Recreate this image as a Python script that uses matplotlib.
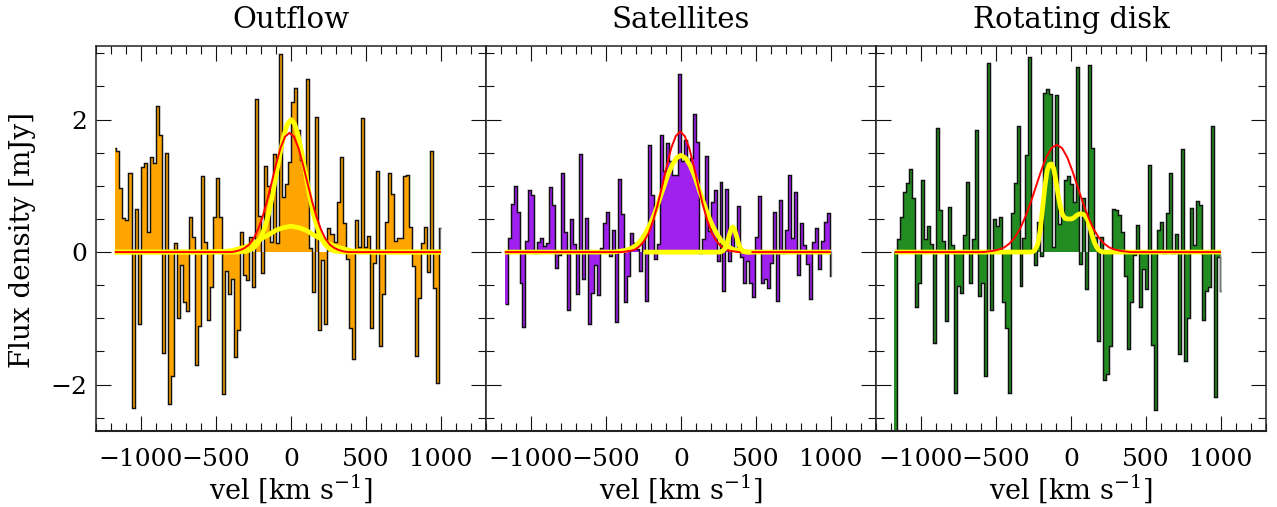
import numpy as np
import matplotlib
matplotlib.use("Agg")
import matplotlib.pyplot as plt

plt.rcParams['font.family'] = ['DejaVu Serif']
plt.rcParams['mathtext.fontset'] = 'dejavuserif'
plt.rcParams['axes.unicode_minus'] = True

titles = ["Outflow", "Satellites", "Rotating disk"]
fill_colors = ["#FFA500", "#A020F0", "#228B22"]

flux_outflow = [
    1.57, 1.52, 0.97, 0.52, 0.49, 1.20, -2.35, 0.65, -1.08, 1.29, 1.34, 0.30, 1.43, 1.35, 2.21, 1.77,
    -1.53, 1.49, -2.29, -1.87, 0.14, -0.99, -0.19, -0.76, -0.89, 0.53, 0.23, -1.70, -1.11, 1.15, 0.15,
    -1.03, -0.53, 0.53, 1.12, 0.53, -2.14, -0.28, -0.63, -0.40, -1.58, -1.18, 0.31, -0.35, -0.42, 0.23,
    -0.52, 2.31, 0.55, -0.32, 1.30, 1.00, 0.15, 1.48, 0.13, 2.99, 0.83, 1.03, 1.36,
    2.27, 2.47, 1.84, 1.39, 1.24, 2.61, 0.06, -0.60, 2.04, -1.18, -0.12, -1.08, 0.36, 0.28, 0.15, 0.75,
    1.43, 0.44, -0.11, -1.15, -1.61, 0.48, 0.07, 2.03, 0.07, 0.25, -1.14, -0.16, 1.23, -1.42, -0.64,
    0.46, 1.19, 0.88, 0.16, 0.22, 0.21, 1.15, 1.16, 0.38, -0.21, -1.57, -0.70, 0.13, 0.38, -0.30, 1.52,
    -0.54, -1.98, 0.37]
flux_satellites = [
    -0.78, 0.21, 0.73, 1.00, 0.61, -0.46, -1.13, 0.17, 0.93, 0.86, -0.02, 0.15, 0.22, 0.09, 0.13, 0.98,
    0.71, -0.24, -0.05, 1.19, 0.31, -0.88, 0.50, 0.12, -0.63, 1.48, -0.41, 0.52, -1.09, -0.61, -0.20,
    -0.65, 0.06, 0.44, 0.60, -0.06, 0.33, -1.05, 1.10, 0.57, -0.76, -0.36, 0.29, 0.13, 0.04, -0.28,
    0.20, -0.74, 1.62, 0.86, -0.10, 0.12, 1.76, 1.23, 1.65, 1.38, 1.17, 1.16, 2.69,
    1.37, 1.69, 1.37, 1.42, 2.08, 1.66, -0.02, 0.20, 1.45, 0.32, 0.76, 0.93, -0.14, 1.06, -0.58, 0.95,
    -0.13, 0.35, 0.05, 0.70, -0.08, -0.46, -0.14, -0.47, -0.68, 0.23, 0.85, -0.47, -0.41, -0.54, -0.16,
    0.61, -0.74, 0.79, -0.02, 0.34, 1.17, 0.22, 0.91, -0.34, 0.44, 0.11, -0.18, -0.71, 0.15, 0.37,
    -0.25, 0.16, 0.45, 0.59, -0.36]
flux_disk = [
    -3.5, 0.19, 0.53, 0.91, 1.05, 1.26, 0.82, -0.83, -0.46, 1.09, 0.20, 0.39, 0.12, -1.37, 1.87, 0.63,
    0.17, -1.04, 0.68, 0.11, -2.12, -0.51, -0.62, 0.26, 1.06, -0.47, 0.19, 1.84, -0.67, -0.46, -1.87,
    2.85, -0.88, 0.50, 0.39, 0.53, -0.76, -1.14, -2.13, 0.59, 1.05, 1.90, -0.51, 0.22, 1.47, 2.94,
    0.03, -0.20, 0.45, -0.06, 2.40, 2.46, 2.38, 0.07, 2.37, 0.42, 0.56, 1.09, 1.15,
    1.03, 0.75, 2.79, -0.18, 0.81, -0.56, 2.83, 1.57, 0.23, -1.34, 0.23, -1.93, -1.84, -1.41, 0.65,
    0.63, 0.56, 0.31, -0.36, -1.47, -0.75, -0.05, 0.41, -0.83, -0.25, -0.55, 1.31, -1.40, -2.39, 0.33,
    0.45, -0.02, 0.59, 1.19, -0.02, 0.27, -1.54, 1.56, -1.64, -0.99, 0.66, 0.11, 0.77, 0.71, -1.02,
    -0.59, -0.52, 1.90, -2.19, -0.08, -0.58]

# velocity channel edges of each spectrum (km/s)
edges_outflow = np.concatenate(([-1175], 2 + 20.1 * np.arange(-58, 50), [1000]))
edges_satellites = np.concatenate((-2 + 19.9 * np.arange(-59, 51), [1000]))
edges_disk = np.concatenate((-5 + 19.9 * np.arange(-59, 51), [1000]))

V_START, V_END = -1175, 1000

# Fitted profiles
red1_v = [V_START, -400, -370, -340, -310, -280, -250, -220, -190, -160, -130, -100, -70, -40, -10,
          20, 50, 80, 110, 140, 170, 200, 230, 260, 290, 320, 350, 380, V_END]
red1_f = [0, 0, 0.01, 0.03, 0.06, 0.11, 0.20, 0.34, 0.53, 0.77, 1.04, 1.32, 1.57, 1.74, 1.80,
          1.74, 1.57, 1.32, 1.04, 0.77, 0.53, 0.34, 0.20, 0.11, 0.06, 0.03, 0.01, 0, 0]
yel1a_v = [V_START, -350, -325, -300, -275, -250, -225, -200, -175, -150, -125, -100, -75, -50, -25, 0,
           25, 50, 75, 100, 125, 150, 175, 200, 225, 250, 275, 300, 325, 350, V_END]
yel1a_f = [0, 0, 0.01, 0.01, 0.03, 0.06, 0.12, 0.22, 0.37, 0.57, 0.84, 1.15, 1.46, 1.74, 1.93, 2.00,
           1.93, 1.74, 1.46, 1.15, 0.84, 0.57, 0.37, 0.22, 0.12, 0.06, 0.03, 0.01, 0.01, 0, 0]
yel1b_v = [V_START, -550, -500, -450, -400, -350, -300, -250, -200, -150, -100, -50, 0,
           50, 100, 150, 200, 250, 300, 350, 400, 450, 500, 550, V_END]
yel1b_f = [0, 0, 0.01, 0.01, 0.02, 0.05, 0.08, 0.13, 0.20, 0.26, 0.33, 0.37, 0.39,
           0.37, 0.33, 0.26, 0.20, 0.13, 0.08, 0.05, 0.02, 0.01, 0.01, 0, 0]

red2_v = [V_START, -395, -365, -335, -305, -275, -245, -215, -185, -155, -125, -95, -65, -35, -5,
          25, 55, 85, 115, 145, 175, 205, 235, 265, 295, 325, 355, 385, V_END]
red2_f = [0, 0, 0.01, 0.02, 0.04, 0.09, 0.17, 0.29, 0.48, 0.72, 1.00, 1.30, 1.57, 1.75, 1.82,
          1.75, 1.57, 1.30, 1.00, 0.72, 0.48, 0.29, 0.17, 0.09, 0.04, 0.02, 0.01, 0, 0]
yel2a_v = [V_START, -450, -420, -390, -360, -330, -300, -270, -240, -210, -180, -150, -120, -90, -60, -30, 0,
           30, 60, 90, 120, 150, 180, 210, 240, 270, 300, 330, 360, 390, 420, 450, V_END]
yel2a_f = [0, 0, 0.01, 0.02, 0.03, 0.06, 0.10, 0.17, 0.27, 0.40, 0.56, 0.75, 0.95, 1.15, 1.31, 1.42, 1.46,
           1.42, 1.31, 1.15, 0.95, 0.75, 0.56, 0.40, 0.27, 0.17, 0.10, 0.06, 0.03, 0.02, 0.01, 0, 0]
yel2b_v = [-250, 260, 280, 295, 305, 315, 325, 335, 345, 355, 365, 375, 385, 395, 410, 430, 470]
yel2b_f = [0, 0, 0.02, 0.06, 0.12, 0.20, 0.28, 0.35, 0.38, 0.35, 0.28, 0.20, 0.12, 0.06, 0.02, 0, 0]

red3_v = [V_START, -585, -550, -515, -480, -445, -410, -375, -340, -305, -270, -235, -200, -165, -130, -95,
          -60, -25, 10, 45, 80, 115, 150, 185, 220, 255, 290, 325, 360, 395, V_END]
red3_f = [0, 0, 0.01, 0.02, 0.04, 0.07, 0.13, 0.22, 0.35, 0.53, 0.74, 0.98, 1.22, 1.43, 1.57, 1.62,
          1.57, 1.43, 1.22, 0.98, 0.74, 0.53, 0.35, 0.22, 0.13, 0.07, 0.04, 0.02, 0.01, 0, 0]
yel3_v = [V_START, -270, -250, -235, -220, -205, -190, -175, -160, -145, -130, -115, -100, -85, -70, -55, -40,
          -25, -10, 5, 20, 35, 50, 65, 80, 95, 110, 125, 140, 155, 170, 185, 200, 220, 260, V_END]
yel3_f = [0, 0, 0.01, 0.05, 0.13, 0.34, 0.65, 0.97, 1.22, 1.32, 1.33, 1.26, 1.07, 0.85, 0.67, 0.56, 0.51,
          0.50, 0.50, 0.50, 0.52, 0.55, 0.57, 0.58, 0.57, 0.55, 0.49, 0.38, 0.26, 0.15, 0.08, 0.03, 0.01, 0, 0, 0]

spectra = [flux_outflow, flux_satellites, flux_disk]
edges = [edges_outflow, edges_satellites, edges_disk]
# (velocities, flux, colour) in drawing order
curves = [
    [(yel1a_v, yel1a_f, 'y'), (yel1b_v, yel1b_f, 'y'), (red1_v, red1_f, 'r')],
    [(yel2a_v, yel2a_f, 'y'), (red2_v, red2_f, 'r'), (yel2b_v, yel2b_f, 'y')],
    [(yel3_v, yel3_f, 'y'), (red3_v, red3_f, 'r')],
]
curve_style = {'y': dict(color='#FFFF00', lw=3.4), 'r': dict(color='#FF0000', lw=1.4)}

W, H = 1277, 507
fig = plt.figure(figsize=(W / 100, H / 100), dpi=100)
lefts = [96, 486, 876]
TICK = 18

for i in range(3):
    ax = fig.add_axes([lefts[i] / W, (H - 431) / H, 390 / W, 385 / H])
    vals = np.array(spectra[i])
    ed = edges[i]
    ax.stairs(vals, ed, fill=True, baseline=0, color=fill_colors[i], lw=0, zorder=2)
    ax.stairs(vals, ed, baseline=None, color='#111111', lw=1.05, zorder=3)
    ax.plot([ed[-2] + 6, ed[-2] + 6], [0, vals[-1]], color='#777777', lw=0.9, zorder=3)
    for k, (cv, cf, c) in enumerate(curves[i]):
        ax.plot(cv, cf, solid_capstyle='butt', zorder=4 + k, **curve_style[c])

    ax.set_xlim(-1300, 1300)
    ax.set_ylim(-2.7, 3.11)
    ax.set_xticks([-1000, -500, 0, 500, 1000])
    ax.set_xticks(np.arange(-1300, 1301, 100), minor=True)
    ax.set_yticks([-2, 0, 2])
    ax.set_yticks(np.arange(-2.5, 3.01, 0.5), minor=True)
    ax.tick_params(which='both', direction='in', top=True, right=True, width=0.8, color='#111111')
    ax.tick_params(which='major', length=11, labelsize=TICK, pad=12)
    ax.tick_params(which='minor', length=5.5)
    ax.tick_params(axis='y', which='major', pad=6)
    if i > 0:
        ax.tick_params(axis='y', labelleft=False)
    for s in ax.spines.values():
        s.set_linewidth(1.1)
        s.set_color('#222222')
        s.set_zorder(10)
    ax.spines['bottom'].set_linewidth(1.5)
    ax.set_xlabel("vel [km s$^{-1}$]", fontsize=19.5, labelpad=1)
    ax.set_title(titles[i], fontsize=21, pad=13)
    if i == 0:
        fig.text(23 / W, 1 - 240 / H, "Flux density [mJy]", rotation=90,
                 fontsize=20, ha='center', va='center')

fig.savefig("out.png", dpi=100)
